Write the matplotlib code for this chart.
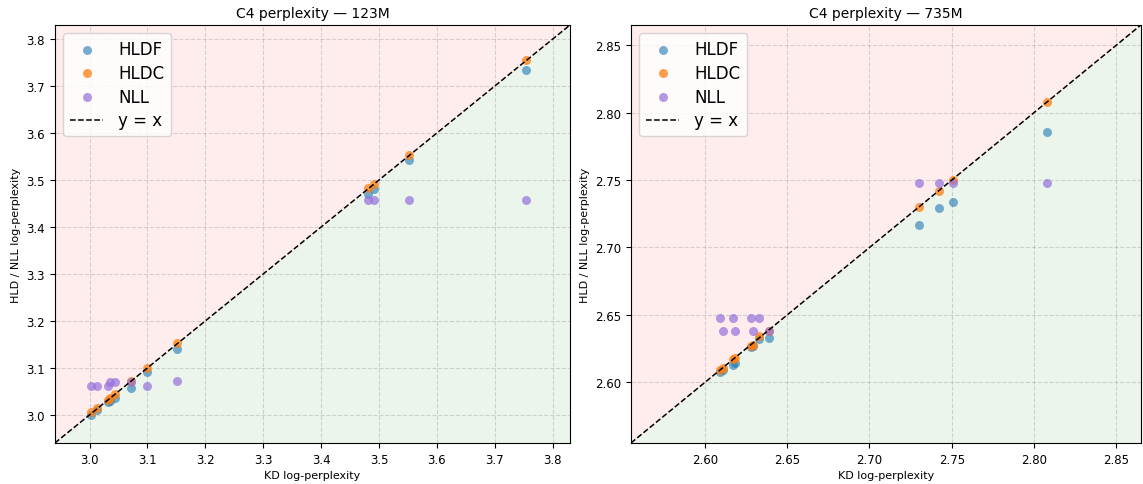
import numpy as np
import matplotlib
matplotlib.use("Agg")
import matplotlib.pyplot as plt

# 123M runs
kd_123 = [3.003, 3.013, 3.031, 3.036, 3.044, 3.071, 3.099, 3.151, 3.481, 3.492, 3.551, 3.754]
hldf_123 = [3.000, 3.010, 3.027, 3.030, 3.036, 3.058, 3.092, 3.140, 3.471, 3.481, 3.542, 3.734]
hldc_123 = [3.006, 3.014, 3.032, 3.036, 3.044, 3.071, 3.100, 3.153, 3.484, 3.491, 3.554, 3.755]
nll_123 = [3.062, 3.062, 3.062, 3.070, 3.070, 3.070, 3.062, 3.071, 3.457, 3.457, 3.457, 3.457]

# 735M runs
kd_735 = [2.609, 2.611, 2.617, 2.618, 2.628, 2.629, 2.633, 2.639, 2.730, 2.742, 2.751, 2.808]
hldf_735 = [2.608, 2.609, 2.613, 2.614, 2.626, 2.627, 2.632, 2.633, 2.717, 2.729, 2.734, 2.786]
hldc_735 = [2.609, 2.611, 2.617, 2.618, 2.627, 2.628, 2.634, 2.638, 2.730, 2.742, 2.750, 2.808]
nll_735 = [2.648, 2.638, 2.648, 2.638, 2.648, 2.638, 2.648, 2.638, 2.748, 2.748, 2.748, 2.748]

panels = [
    ("C4 perplexity — 123M", kd_123, hldf_123, hldc_123, nll_123, (2.94, 3.83)),
    ("C4 perplexity — 735M", kd_735, hldf_735, hldc_735, nll_735, (2.555, 2.865)),
]

fig = plt.figure(figsize=(11.43, 4.85), dpi=100)
positions = [[0.048, 0.0845, 0.4507, 0.8619], [0.552, 0.0845, 0.4462, 0.8619]]

for pos, (title, kd, hldf, hldc, nll, lims) in zip(positions, panels):
    ax = fig.add_axes(pos)
    lo, hi = lims
    xs = np.array([lo, hi])
    ax.fill_between(xs, xs, hi, color="red", alpha=0.07, linewidth=0)
    ax.fill_between(xs, lo, xs, color="green", alpha=0.08, linewidth=0)

    ax.scatter(kd, hldf, s=42, color="tab:blue", alpha=0.6, linewidths=0, label="HLDF", zorder=3)
    ax.scatter(kd, hldc, s=42, color="tab:orange", alpha=0.75, linewidths=0, label="HLDC", zorder=3)
    ax.scatter(kd, nll, s=42, color="mediumpurple", alpha=0.7, linewidths=0, label="NLL", zorder=3)
    ax.plot(xs, xs, "k--", lw=1.1, label="y = x", zorder=4)

    ax.set_xlim(lo, hi)
    ax.set_ylim(lo, hi)
    ax.grid(True, linestyle="--", color="gray", alpha=0.3)
    ax.set_title(title, fontsize=10)
    ax.set_xlabel("KD log-perplexity", fontsize=8, labelpad=3)
    ax.set_ylabel("HLD / NLL log-perplexity", fontsize=8)
    ax.tick_params(labelsize=8.5)
    ax.legend(loc="upper left", fontsize=12, handletextpad=0.9, borderpad=0.4, labelspacing=0.35)

fig.savefig("out.png", dpi=100)
